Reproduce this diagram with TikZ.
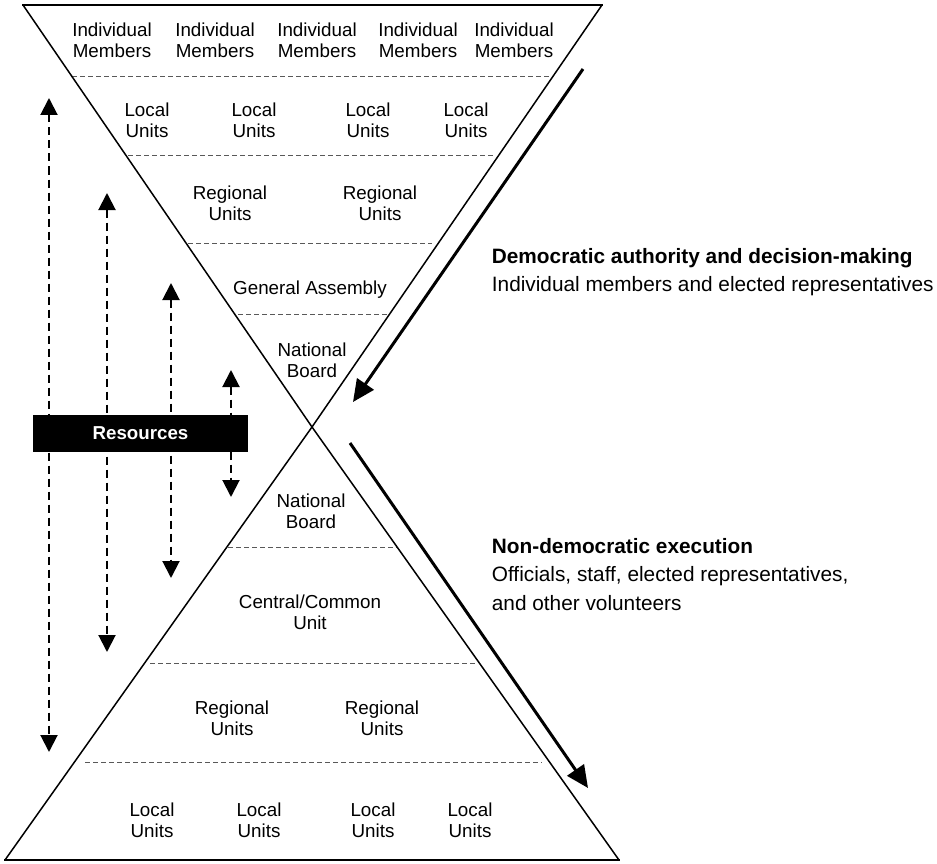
\documentclass[tikz,border=0pt]{standalone}
\usepackage{fontspec}
\setmainfont{Liberation Sans}
\usetikzlibrary{arrows.meta}
\begin{document}
\begin{tikzpicture}[x=1pt,y=-1pt,
  edge/.style={line width=1.5pt},
  rim/.style={line width=2.6pt},
  sep/.style={draw=black!65, line width=0.8pt, dash pattern=on 5pt off 3pt},
  lbl/.style={inner sep=0pt, align=center, font=\fontsize{18.8}{21}\selectfont},
  side/.style={inner sep=0pt, anchor=base west, font=\fontsize{20.8}{28}\selectfont},
  sidebold/.style={inner sep=0pt, anchor=base west, font=\fontsize{20.8}{28}\selectfont\bfseries},
  resarrow/.style={line width=2pt, dash pattern=on 8pt off 5pt,
    {Triangle[length=17pt,width=17pt]}-{Triangle[length=17pt,width=17pt]}},
  flow/.style={line width=3pt, -{Triangle[length=22pt,width=20pt]}},
  resbox/.style={fill=black, text=white, inner sep=0pt, minimum width=215pt,
    minimum height=37pt, font=\fontsize{18.7}{21}\selectfont\bfseries},
]
\useasboundingbox (0,0) rectangle (937,864);

% corners
\coordinate (TL) at (23,5);
\coordinate (TR) at (602,5);
\coordinate (X) at (312,427);
\coordinate (BL) at (5,860);
\coordinate (BR) at (619,860);

% separators
\draw[sep] (72,76) -- (551,76);
\draw[sep] (128,155) -- (493,155);
\draw[sep] (188,243) -- (432,243);
\draw[sep] (238,314) -- (387,314);
\draw[sep] (228,547) -- (397,547);
\draw[sep] (150,663) -- (475,663);
\draw[sep] (85,762) -- (542,762);

% triangles
\draw[rim] ([xshift=-0.6pt]TL) -- ([xshift=0.6pt]TR);
\draw[edge] (TL) -- (X) -- (TR);
\draw[rim] ([xshift=-0.8pt]BL) -- ([xshift=0.8pt]BR);
\draw[edge] (BL) -- (X) -- (BR);

% labels top
\foreach \xx [count=\i] in {112,215,317,418,514}
  \node[lbl] (im\i) at (\xx,40.5) {Individual\\Members};
\foreach \xx [count=\i] in {147,254,368,466}
  \node[lbl] (lu\i) at (\xx,120) {Local\\Units};
\foreach \xx [count=\i] in {230,380}
  \node[lbl] (ru\i) at (\xx,203) {Regional\\Units};
\node[lbl] (ga) at (310,289.5) {General Assembly};
\node[lbl] (nbt) at (312,360.5) {National\\Board};

% labels bottom
\node[lbl] (nbb) at (311,511) {National\\Board};
\node[lbl] (ccu) at (310,612.5) {Central/Common\\Unit};
\foreach \xx [count=\i] in {232,382}
  \node[lbl] (rb\i) at (\xx,718) {Regional\\Units};
\foreach \xx [count=\i] in {152,259,373,470}
  \node[lbl] (lb\i) at (\xx,820) {Local\\Units};

% resource arrows
\coordinate (r1t) at (49,98);   \coordinate (r1b) at (49,752);
\coordinate (r2t) at (107,193); \coordinate (r2b) at (107,652);
\coordinate (r3t) at (171,283); \coordinate (r3b) at (171,578);
\coordinate (r4t) at (231,370); \coordinate (r4b) at (231,497);
\draw[resarrow] (r1t) -- (r1b);
\draw[resarrow] (r2t) -- (r2b);
\draw[resarrow] (r3t) -- (r3b);
\draw[resarrow] (r4t) -- (r4b);
\node[resbox] (res) at (140.5,433.5) {Resources};

% flow arrows
\coordinate (fa1) at (583,69);  \coordinate (fa2) at (353,402);
\coordinate (fb1) at (350,443); \coordinate (fb2) at (588,788);
\draw[flow] (fa1) -- (fa2);
\draw[flow] (fb1) -- (fb2);

% side texts
\node[sidebold] (d1) at (491.7,263.3) {Democratic authority and decision-making};
\node[side] (d2) at (491.7,291.7) {Individual members and elected representatives};
\node[sidebold] (n1) at (491.7,553.3) {Non-democratic execution};
\node[side] (n2) at (491.7,581.7) {Officials, staff, elected representatives,};
\node[side] (n3) at (491.7,610) {and other volunteers};
\end{tikzpicture}
\end{document}
